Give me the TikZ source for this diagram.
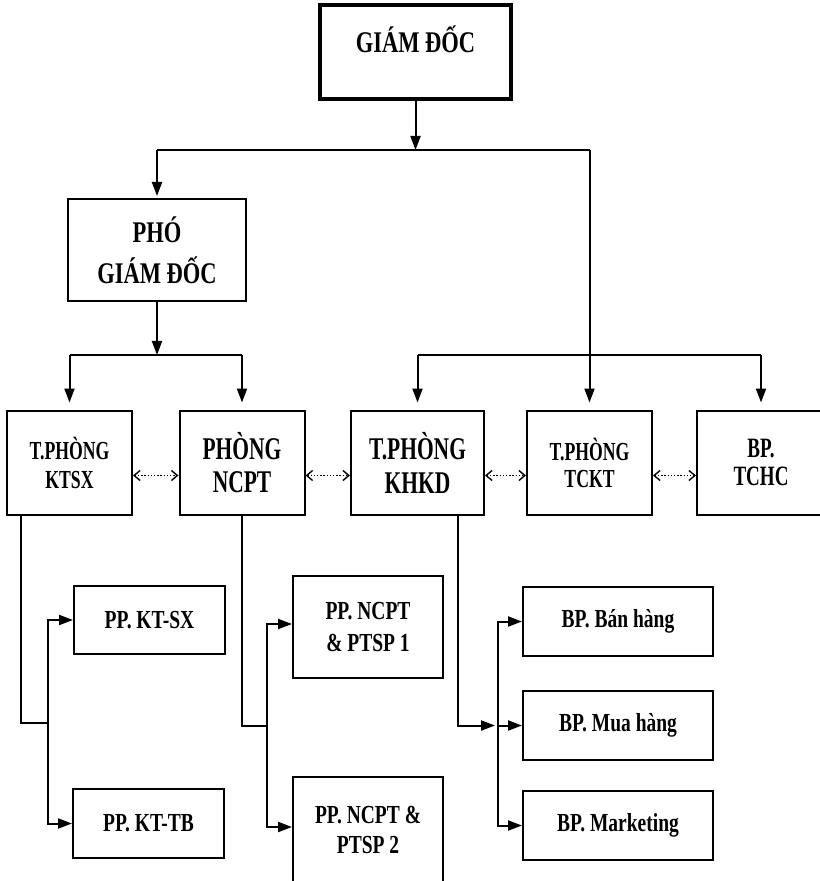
\documentclass[tikz,border=0pt]{standalone}
\usepackage{fontspec}
\setmainfont{Liberation Serif}[FakeStretch=0.75]
\newfontfamily\hepchu{Liberation Serif}[FakeStretch=0.68]
\usetikzlibrary{arrows.meta}
\tikzset{
  hop/.style={draw,line width=1pt,align=center,inner sep=1pt,font=\bfseries\fontsize{13}{16}\selectfont},
  hopGD/.style={hop,line width=2pt,font=\bfseries\fontsize{15}{20.5}\selectfont},
  hopP/.style={hop,minimum width=62.5pt,minimum height=52pt},
  duong/.style={line width=1pt},
  muiten/.style={-{Triangle[length=7pt,width=5pt]},line width=1pt},
  chamcham/.style={{Straight Barb[length=3pt,width=5pt]}-{Straight Barb[length=3pt,width=5pt]},line width=0.7pt,dash pattern=on 0.7pt off 0.9pt},
}
\begin{document}
\begin{tikzpicture}[x=0.5pt,y=-0.5pt]
  \useasboundingbox (0,0) rectangle (819,881);
  \node[hopGD,minimum width=95.5pt,minimum height=47pt,text depth=13pt] (gd) at (415.5,52) {GIÁM ĐỐC};
  \node[hop,minimum width=89pt,minimum height=51pt,font=\bfseries\fontsize{15}{20.5}\selectfont] (pgd) at (157,250) {PHÓ\\GIÁM ĐỐC};
  \node[hopP,font=\hepchu\bfseries\fontsize{13}{14.5}\selectfont] (ktsx) at (69.5,462.5) {T.PHÒNG\\KTSX};
  \node[hopP,font=\hepchu\bfseries\fontsize{15.8}{16.5}\selectfont] (ncpt) at (242,462.5) {PHÒNG\\NCPT};
  \node[hopP,minimum width=66.5pt,font=\hepchu\bfseries\fontsize{15.8}{17}\selectfont] (khkd) at (417.5,462.5) {T.PHÒNG\\KHKD};
  \node[hopP,font=\hepchu\bfseries\fontsize{13}{13.5}\selectfont] (tckt) at (589.5,462.5) {T.PHÒNG\\TCKT};
  \node[hopP,minimum width=64pt,font=\hepchu\bfseries\fontsize{14}{14}\selectfont] (tchc) at (761,462.5) {BP.\\TCHC};
  \node[hop,minimum width=75.5pt,minimum height=34pt] (ktsx1) at (149.5,620) {PP. KT-SX};
  \node[hop,minimum width=75.5pt,minimum height=34.5pt] (kttb) at (148.5,823.5) {PP. KT-TB};
  \node[hop,minimum width=75pt,minimum height=51pt] (ncpt1) at (368,627) {PP. NCPT\\\& PTSP 1};
  \node[hop,minimum width=75pt,minimum height=53pt,font=\bfseries\fontsize{13}{15}\selectfont] (ncpt2) at (368,830) {PP. NCPT \&\\PTSP 2};
  \node[hop,minimum width=95pt,minimum height=34.5pt] (ban) at (618,621.5) {BP. Bán hàng};
  \node[hop,minimum width=95pt,minimum height=34.5pt] (mua) at (618,725.5) {BP. Mua hàng};
  \node[hop,minimum width=95pt,minimum height=34.5pt] (mkt) at (618,825.5) {BP. Marketing};
  \coordinate (t1) at (0,150); \coordinate (h1) at (0,355);
  \draw[muiten] (gd.south) -- (gd.south |- t1);
  \draw[duong] (pgd.north |- t1) -- (tckt.north |- t1);
  \draw[muiten,shorten >=1pt] (pgd.north |- t1) -- (pgd.north);
  \draw[muiten,shorten >=3.5pt] (tckt.north |- t1) -- (tckt.north);
  \draw[muiten] (pgd.south) -- (pgd.south |- h1);
  \draw[duong] (ktsx.north |- h1) -- (ncpt.north |- h1);
  \draw[duong] (khkd.north |- h1) -- (tchc.north |- h1);
  \foreach \n in {ktsx,ncpt,khkd,tchc} \draw[muiten,shorten >=3.5pt] (\n.north |- h1) -- (\n.north);
  \foreach \a/\b in {ktsx/ncpt,ncpt/khkd,khkd/tckt,tckt/tchc} \draw[chamcham] ([yshift=-6.5pt]\a.east) -- ([yshift=-6.5pt]\b.west);
  \coordinate (b1) at (48,723); \coordinate (b2) at (267,726); \coordinate (b3) at (498,725.5);
  \draw[duong] ([xshift=7.5pt]ktsx.south west) |- (b1);
  \draw[muiten] (b1) |- (ktsx1.west); \draw[muiten] (b1) |- (kttb.west);
  \draw[duong] (ncpt.south) |- (b2);
  \draw[muiten] (b2) |- ([yshift=1.5pt]ncpt1.west); \draw[muiten] (b2) |- ([yshift=1.5pt]ncpt2.west);
  \draw[muiten,shorten >=1.5pt] ([xshift=20pt]khkd.south) |- (b3);
  \draw[muiten] (b3) -- (mua.west);
  \draw[muiten] (b3) |- (ban.west); \draw[muiten] (b3) |- (mkt.west);
\end{tikzpicture}
\end{document}
